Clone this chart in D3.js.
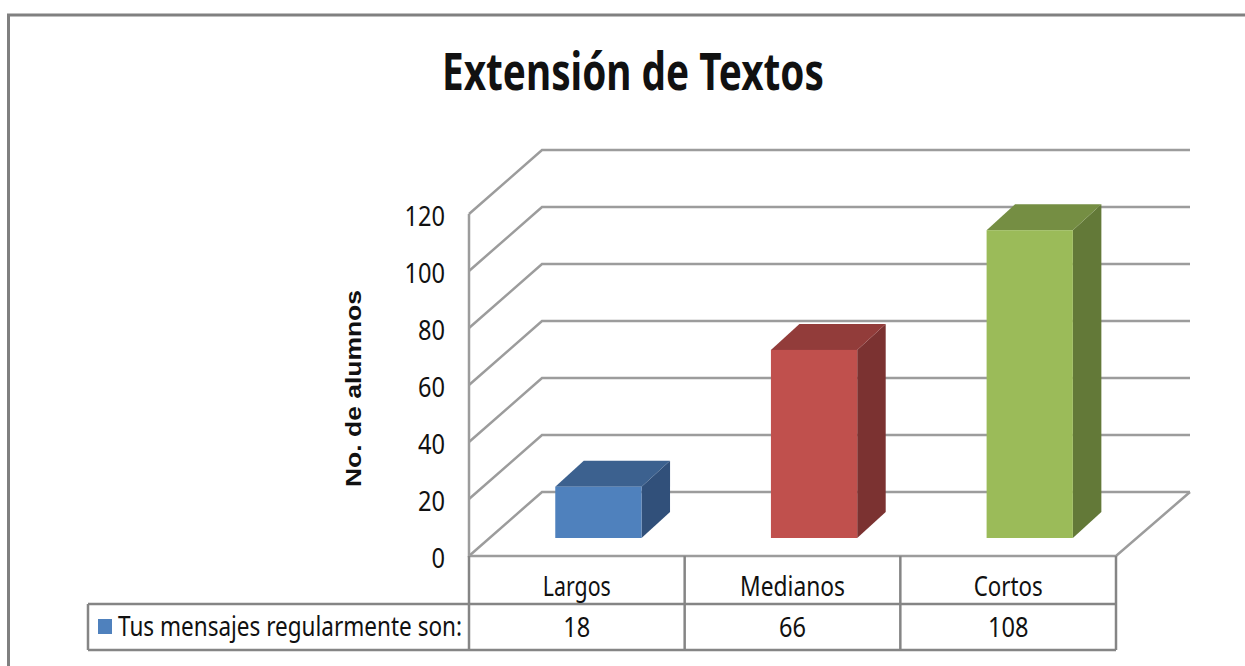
<!DOCTYPE html>
<html>
<head>
<meta charset="utf-8">
<script src="https://cdn.jsdelivr.net/npm/d3@7"></script>
<style>
  html, body { margin: 0; padding: 0; background: #fff; overflow: hidden; }
  text { font-family: "Noto Sans", "Open Sans", sans-serif; fill: #111; }
</style>
</head>
<body>
<script>
const categories = ['Largos', 'Medianos', 'Cortos'];
const values = [18, 66, 108];
const yTicks = [0, 20, 40, 60, 80, 100, 120];
const seriesName = 'Tus mensajes regularmente son:';
const barFront = ['#4f81bd', '#c0504d', '#9bbb59'];
const barTop = ['#3c618f', '#923c3a', '#758e43'];
const barSide = ['#31507a', '#7b3231', '#637938'];

const w = 1245, h = 666;
const gridColor = '#9c9c9c', lineColor = '#858585';

const svg = d3.select('body').append('svg')
  .attr('width', w).attr('height', h);

// Scales: wall lines sit on yScale, bars stand a little inside the floor
const xScale = d3.scaleBand().domain(categories).range([469, 1116]);
const yScale = d3.scaleLinear().domain([0, 120]).range([556, 214]);
const barY = d3.scaleLinear().domain([0, 120]).range([538, 196]);
const depthX = 73, depthY = -64;
const barDx = 28.5, barDy = -26;

// Outer frame (runs off the right and bottom of the picture)
svg.append('path')
  .attr('d', `M8.5,${h}V15H${w}`)
  .attr('fill', 'none').attr('stroke', '#808080').attr('stroke-width', 3);

// Walls and gridlines
const grid = svg.append('g').attr('fill', 'none')
  .attr('stroke', gridColor).attr('stroke-width', 2.5);
grid.selectAll('path').data(yTicks).enter().append('path')
  .attr('d', (d) => `M469,${yScale(d)}L${469 + depthX},${yScale(d) + depthY}H${1116 + depthX + 1}`);
grid.append('path')
  .attr('d', `M469,${yScale(120)}V${yScale(0)}H1116L${1116 + depthX + 1},${yScale(0) + depthY}`);

// Bars
const bars = svg.selectAll('g.bar').data(values).enter().append('g').attr('class', 'bar');
const barW = xScale.bandwidth() * 0.4;
const left = (i) => xScale(categories[i]) + barW;

bars.append('polygon') // side
  .attr('points', (d, i) => {
    const x = left(i) + barW;
    return [[x, barY(d)], [x + barDx, barY(d) + barDy], [x + barDx, barY(0) + barDy], [x, barY(0)]].join(' ');
  })
  .attr('fill', (d, i) => barSide[i]);
bars.append('polygon') // top
  .attr('points', (d, i) => {
    const x = left(i);
    return [[x, barY(d)], [x + barDx, barY(d) + barDy], [x + barW + barDx, barY(d) + barDy], [x + barW, barY(d)]].join(' ');
  })
  .attr('fill', (d, i) => barTop[i]);
bars.append('rect') // front
  .attr('x', (d, i) => left(i))
  .attr('y', (d) => barY(d))
  .attr('width', barW)
  .attr('height', (d) => barY(0) - barY(d))
  .attr('fill', (d, i) => barFront[i]);

// Y tick labels
svg.append('g').selectAll('text').data(yTicks).enter().append('text')
  .attr('x', 445)
  .attr('y', (d) => yScale(d) + 12)
  .attr('text-anchor', 'end')
  .attr('font-size', 27)
  .attr('textLength', (d) => String(d).length * 13.5)
  .attr('lengthAdjust', 'spacingAndGlyphs')
  .text((d) => d);

// Title
svg.append('text')
  .attr('x', 442).attr('y', 90)
  .attr('font-size', 52).attr('font-weight', 700)
  .attr('textLength', 382).attr('lengthAdjust', 'spacingAndGlyphs')
  .text('Extensión de Textos');

// Y axis title
svg.append('text')
  .attr('transform', 'translate(361,487) rotate(-90)')
  .style('font-family', '"Liberation Sans", Arial, sans-serif')
  .attr('font-size', 22).attr('font-weight', 700)
  .attr('textLength', 197).attr('lengthAdjust', 'spacingAndGlyphs')
  .text('No. de alumnos');

// Data table
const rowTop = 556, rowMid = 604, rowBot = 650;
const table = svg.append('g').attr('fill', 'none')
  .attr('stroke', lineColor).attr('stroke-width', 2.5);
const tableX = xScale.domain().map((c) => xScale(c)).concat([xScale.range()[1]]);
table.selectAll('line').data(tableX).enter().append('line')
  .attr('x1', (d) => d).attr('x2', (d) => d)
  .attr('y1', rowTop).attr('y2', rowBot);
table.append('path')
  .attr('d', `M88,${rowMid}H1116M88,${rowBot}H1116M88,${rowMid}V${rowBot}`);

const cells = svg.append('g').attr('text-anchor', 'middle').attr('font-size', 27);
cells.selectAll('text.cat').data(categories).enter().append('text')
  .attr('class', 'cat')
  .attr('x', (d) => xScale(d) + xScale.bandwidth() / 2)
  .attr('y', 596)
  .attr('textLength', (d, i) => [68, 105, 69][i])
  .attr('lengthAdjust', 'spacingAndGlyphs')
  .text((d) => d);
cells.selectAll('text.val').data(values).enter().append('text')
  .attr('class', 'val')
  .attr('x', (d, i) => xScale(categories[i]) + xScale.bandwidth() / 2)
  .attr('y', 637)
  .attr('textLength', (d) => String(d).length * 13.5)
  .attr('lengthAdjust', 'spacingAndGlyphs')
  .text((d) => d);

// Legend key in the table
svg.append('rect')
  .attr('x', 98).attr('y', 619).attr('width', 14).attr('height', 15)
  .attr('fill', barFront[0]);
svg.append('text')
  .attr('x', 118).attr('y', 636)
  .attr('font-size', 27)
  .attr('textLength', 344).attr('lengthAdjust', 'spacingAndGlyphs')
  .text(seriesName);
</script>
</body>
</html>
